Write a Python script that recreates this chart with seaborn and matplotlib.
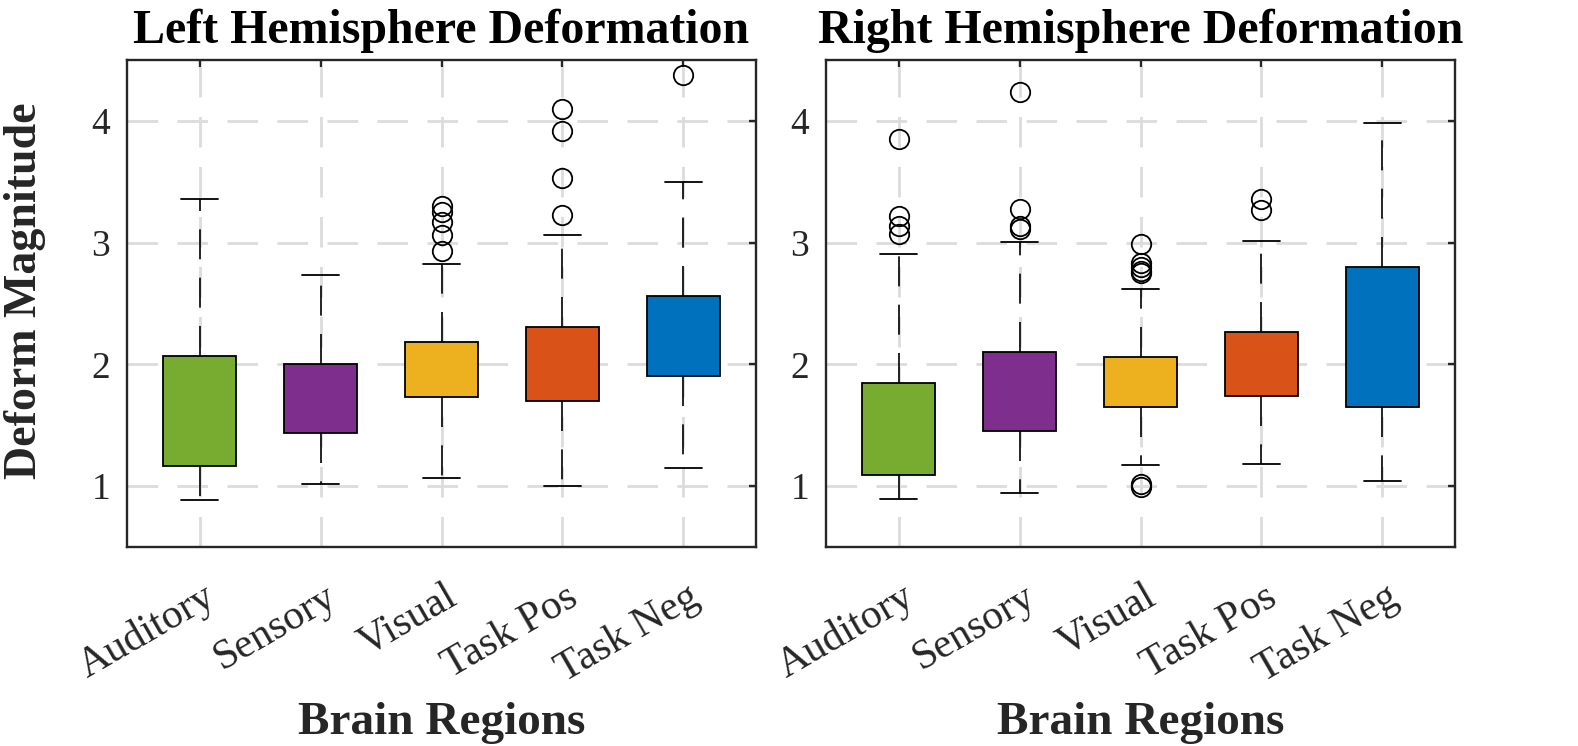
import matplotlib
matplotlib.use("Agg")
import matplotlib.pyplot as plt
import matplotlib.transforms as mtransforms
import seaborn as sns

# brain regions and box colours (MATLAB palette)
regions = ["Auditory", "Sensory", "Visual", "Task Pos", "Task Neg"]
box_colors = ["#77AC30", "#7E2F8E", "#EDB120", "#D95319", "#0072BD"]

# left hemisphere box stats
left_q1 = [1.164, 1.436, 1.732, 1.696, 1.901]
left_q3 = [2.066, 2.005, 2.184, 2.307, 2.559]
left_lo = [0.882, 1.014, 1.066, 0.997, 1.148]
left_hi = [3.362, 2.732, 2.825, 3.066, 3.499]
left_fliers = [
    [],
    [],
    [2.93, 3.06, 3.17, 3.25, 3.30],
    [3.23, 3.53, 3.92, 4.10],
    [4.375],
]

# right hemisphere box stats
right_q1 = [1.088, 1.452, 1.652, 1.740, 1.649]
right_q3 = [1.847, 2.101, 2.063, 2.266, 2.803]
right_lo = [0.893, 0.942, 1.175, 1.184, 1.038]
right_hi = [2.904, 3.005, 2.622, 3.011, 3.986]
right_fliers = [
    [3.07, 3.14, 3.22, 3.85],
    [3.11, 3.14, 3.28, 4.24],
    [0.99, 1.02, 2.75, 2.77, 2.80, 2.83, 2.99],
    [3.27, 3.36],
    [],
]

sns.set_theme(style="white")
plt.rcParams['font.family'] = ['Liberation Serif', 'DejaVu Serif']

TXT = "#262626"


def make_stats(q1, q3, lo, hi, fliers):
    stats = []
    for i in range(len(regions)):
        stats.append({
            "label": regions[i],
            "med": q1[i],  # median line is hidden in the original
            "q1": q1[i],
            "q3": q3[i],
            "whislo": lo[i],
            "whishi": hi[i],
            "fliers": fliers[i],
        })
    return stats


def draw_panel(fig, ax, stats, title):
    positions = list(range(1, len(regions) + 1))
    bp = ax.bxp(
        stats,
        positions=positions,
        widths=0.6,
        patch_artist=True,
        showfliers=True,
        boxprops=dict(edgecolor="black", linewidth=1.3),
        whiskerprops=dict(color="black", linewidth=1.2, linestyle=(0, (18, 11))),
        capprops=dict(color="black", linewidth=1.3),
        medianprops=dict(linewidth=0),
        flierprops=dict(marker="o", markerfacecolor="none", markeredgecolor="black",
                        markersize=14, markeredgewidth=1.3),
        zorder=3,
    )
    for patch, c in zip(bp["boxes"], box_colors):
        patch.set_facecolor(c)

    ax.set_xlim(0.4, 5.6)
    ax.set_ylim(0.5, 4.5)
    ax.set_yticks([1, 2, 3, 4])
    ax.set_xticks(positions)
    ax.set_xticklabels(regions, rotation=30, ha="right", va="center",
                       rotation_mode="anchor")
    ax.set_axisbelow(True)
    ax.grid(True, color="#dcdcdc", linestyle=(0, (11, 7)), linewidth=2)

    for sp in ax.spines.values():
        sp.set_color(TXT)
        sp.set_linewidth(1.7)
    ax.tick_params(direction="in", length=5, width=1.7, top=True, right=True,
                   color=TXT, labelcolor=TXT, labelsize=27)
    ax.tick_params(axis="x", pad=34, labelsize=30)
    ax.tick_params(axis="y", pad=12)

    # nudge rotated labels to the right like the original
    offset = mtransforms.ScaledTranslation(9 / 72, 0, fig.dpi_scale_trans)
    for lbl in ax.get_xticklabels():
        lbl.set_transform(lbl.get_transform() + offset)

    ax.set_title(title, fontsize=34.5, fontweight="bold", pad=12, color="black")
    ax.set_xlabel("Brain Regions", fontsize=34, fontweight="bold", color=TXT)
    ax.xaxis.set_label_coords(0.5, -0.318)


fig = plt.figure(figsize=(15.78, 7.46), dpi=100)
ax1 = fig.add_axes([127 / 1578, 199 / 746, 629 / 1578, 487 / 746])
ax2 = fig.add_axes([826 / 1578, 199 / 746, 629 / 1578, 487 / 746])

draw_panel(fig, ax1, make_stats(left_q1, left_q3, left_lo, left_hi, left_fliers),
           "Left Hemisphere Deformation")
draw_panel(fig, ax2, make_stats(right_q1, right_q3, right_lo, right_hi, right_fliers),
           "Right Hemisphere Deformation")

ax1.set_ylabel("Deform Magnitude", fontsize=33, fontweight="bold", color=TXT)
ax1.yaxis.set_label_coords(-0.128, 0.526)

fig.savefig("out.png", dpi=100)
plt.close(fig)
